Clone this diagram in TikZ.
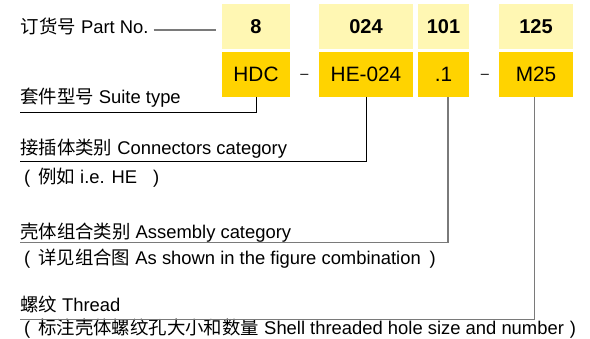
\documentclass[tikz,border=0pt]{standalone}
\usepackage{fontspec}
\setmainfont{Liberation Sans}
\newfontfamily\cjk{Noto Sans CJK SC}
\usetikzlibrary{calc}
\definecolor{lightyel}{HTML}{FFF7B3}
\definecolor{goldyel}{HTML}{FFD300}
\definecolor{lgray}{HTML}{7A7A7A}
\begin{document}
\begin{tikzpicture}[x=1pt,y=-1pt,
  lbl/.style={anchor=base west, inner sep=0pt, font=\fontsize{18.4}{22}\selectfont},
  topbox/.style={fill=lightyel, minimum height=45pt, inner sep=0pt, text height=14pt, text depth=0pt, font=\fontsize{20}{24}\selectfont\bfseries},
  botbox/.style={fill=goldyel, minimum height=45pt, inner sep=0pt, text height=15pt, text depth=0pt, font=\fontsize{20.8}{24}\selectfont},
  hyph/.style={inner sep=0pt, anchor=base, font=\fontsize{14.5}{16}\selectfont},
  blackline/.style={draw=black, line width=1pt},
  grayline/.style={draw=lgray, line width=1.5pt},
]
\useasboundingbox (0,0) rectangle (590,339);
% code boxes
\node[topbox, minimum width=68pt] (t1) at (256,26.5) {8};
\node[topbox, minimum width=94pt] (t2) at (366,26.5) {024};
\node[topbox, minimum width=51pt] (t3) at (443.5,26.5) {101};
\node[topbox, minimum width=74pt] (t4) at (536,26.5) {125};
\node[botbox, minimum width=68pt] (b1) at (256,74.3) {HDC};
\node[botbox, minimum width=94pt] (b2) at (366,74.3) {HE-024};
\node[botbox, minimum width=51pt] (b3) at (443.5,74.3) {.1};
\node[botbox, minimum width=74pt] (b4) at (536,74.3) {M25};
\node[hyph] (h1) at (304.5,78.2) {–};
\node[hyph] (h2) at (485,78.2) {–};
% labels
\node[lbl] (pn) at (20.5,33.5) {{\cjk 订货号} Part No.};
\node[lbl] (st) at (20,104) {{\cjk 套件型号} Suite type};
\node[lbl] (cc) at (20,155) {{\cjk 接插体类别} Connectors category};
\node[lbl] (eg) at (20,184) {\hspace*{4pt}(\hspace{8pt}{\cjk 例如} i.e. HE\hspace{16pt})};
\node[lbl] (ac) at (20,238.3) {{\cjk 壳体组合类别} Assembly category};
\node[lbl] (sf) at (20,264.3) {\hspace*{4pt}(\hspace{8pt}{\cjk 详见组合图} As shown in the figure combination\hspace{9pt})};
\node[lbl] (th) at (20,311.5) {{\cjk 螺纹} Thread};
\node[lbl] (sh) at (20,335) {\hspace*{4pt}(\hspace{8pt}{\cjk 标注壳体螺纹孔大小和数量} Shell threaded hole size and number\hspace{6pt})};
% line ends
\coordinate (stend) at (20,112.3);
\coordinate (ccend) at (20,161.7);
\coordinate (acend) at (20,242.7);
\coordinate (thend) at (20,319.3);
% connectors
\draw[grayline] ($(pn.base east)+(5,-3.5)$) -- ($(t1.west |- pn.base east)+(-6,-3.5)$);
\draw[blackline] (b1.south) |- (stend);
\draw[blackline] (b2.south) |- (ccend);
\draw[grayline] ([xshift=4.3pt]b3.south) |- (acend);
\draw[grayline] ([xshift=-1.7pt]b4.south) |- (thend);
\end{tikzpicture}
\end{document}
